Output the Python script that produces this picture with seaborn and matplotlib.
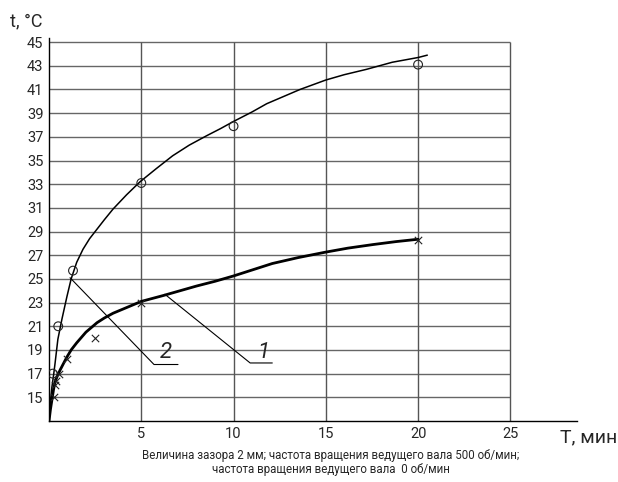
import numpy as np
import pandas as pd
import matplotlib
matplotlib.use("Agg")
import matplotlib.pyplot as plt
import seaborn as sns

# Curve 1 (thick line, "x" markers) - path
c1_T = [0, 0.08, 0.16, 0.25, 0.33, 0.45, 0.6, 0.8, 0.97, 1.2, 1.5, 2.0, 2.6, 3.0, 3.47, 4.39, 5,
        6.2, 7.1, 8, 9, 10, 11, 12.1, 13.5, 14.95, 16.2, 17.55, 18.8, 20]
c1_t = [13, 14.0, 14.8, 15.7, 16.3, 16.8, 17.3, 17.9, 18.4, 19.0, 19.6, 20.5, 21.3, 21.7, 22.1, 22.7, 23.1,
        23.6, 24.0, 24.4, 24.8, 25.25, 25.75, 26.3, 26.8, 27.25, 27.6, 27.9, 28.15, 28.35]
# measured points of curve 1
p1_T = [0.25, 0.35, 0.4, 0.55, 1.0, 2.5, 5, 20]
p1_t = [15.0, 16.0, 16.4, 17.0, 18.2, 20.0, 23.0, 28.3]

# Curve 2 (thin line, circle markers)
c2_T = [0, 0.05, 0.1, 0.16, 0.25, 0.33, 0.48, 0.7, 0.97, 1.2, 1.5, 1.84, 2.2, 2.6, 3.0, 3.47, 4.2, 4.93,
        5.8, 6.7, 7.6, 8.55, 9.3, 10, 11, 11.8, 12.7, 13.6, 15, 16, 17.2, 18.6, 20, 20.5]
c2_t = [13, 14.2, 15.0, 15.9, 16.9, 17.9, 19.9, 21.6, 23.5, 25.0, 26.4, 27.5, 28.4, 29.2, 30.0, 30.9, 32.1, 33.2,
        34.3, 35.4, 36.3, 37.1, 37.7, 38.3, 39.1, 39.8, 40.4, 41.0, 41.8, 42.25, 42.7, 43.3, 43.7, 43.9]
p2_T = [0.2, 0.5, 1.3, 5, 10, 20]
p2_t = [17.0, 21.0, 25.7, 33.1, 37.9, 43.1]

y_ticks = list(range(15, 46, 2))
x_ticks = [5, 10, 15, 20, 25]

sns.set_style("white")
plt.rcParams['font.family'] = ['Roboto', 'DejaVu Sans']

fig = plt.figure(figsize=(6.18, 4.82), dpi=100)
ax = fig.add_axes([0.0793, 0.1266, 0.854, 0.7946])

# grid box
ax.hlines(y_ticks, 0, 25, color="#666666", lw=1.0, zorder=1)
ax.vlines(x_ticks, 13, 45, color="#555555", lw=1.0, zorder=1)

sns.lineplot(x=c1_T, y=c1_t, sort=False, color="black", lw=2.0, ax=ax, zorder=3)
sns.lineplot(x=c2_T, y=c2_t, sort=False, color="black", lw=1.1, ax=ax, zorder=3)
ax.scatter(p1_T, p1_t, marker="x", s=28, color="#222222", linewidths=0.8, zorder=4)
ax.scatter(p2_T, p2_t, marker="o", s=40, facecolors="none", edgecolors="#222222", linewidths=0.8, zorder=4)

# leader lines with labels
ax.plot([1.14, 5.69, 6.99], [25.1, 17.77, 17.77], color="black", lw=0.8, zorder=2)
ax.plot([6.28, 10.9, 12.1], [23.7, 17.9, 17.9], color="black", lw=0.8, zorder=2)
ax.text(6.35, 18.75, "2", fontsize=16, ha="center", va="center", style="italic")
ax.text(11.6, 18.8, "1", fontsize=16, ha="center", va="center", style="italic")

ax.set_xlim(0, 28.6)
ax.set_ylim(13, 45.35)
ax.set_xticks(x_ticks)
ax.set_yticks(y_ticks)
ax.tick_params(length=0, labelsize=10.5, pad=4)
for s in ["top", "right"]:
    ax.spines[s].set_visible(False)
for s in ["left", "bottom"]:
    ax.spines[s].set_color("black")
    ax.spines[s].set_linewidth(1.0)

fig.text(0.016, 0.955, "t, °C", fontsize=13, ha="left", va="center")
fig.text(0.998, 0.093, "T, мин", fontsize=14, ha="right", va="center")
fig.text(0.535, 0.056, "Величина зазора 2 мм; частота вращения ведущего вала 500 об/мин;",
         fontsize=8.3, ha="center", va="center")
fig.text(0.535, 0.026, "частота вращения ведущего вала  0 об/мин",
         fontsize=8.3, ha="center", va="center")

fig.savefig("out.png", dpi=100)
